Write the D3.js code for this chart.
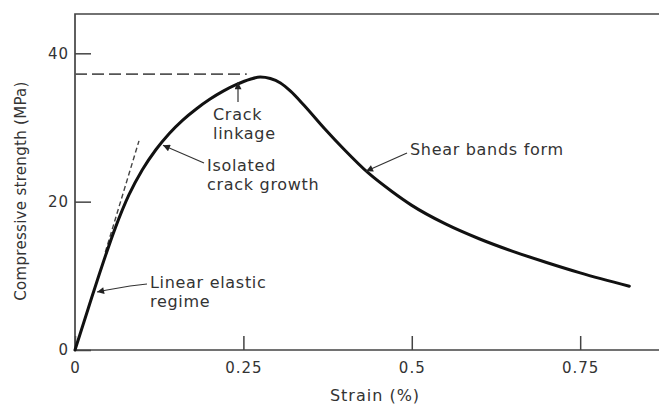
<!DOCTYPE html>
<html>
<head>
<meta charset="utf-8">
<script src="https://cdn.jsdelivr.net/npm/d3@7"></script>
<style>
  html, body { margin: 0; padding: 0; background: #fff; }
  svg { display: block; }
  text { font-family: "DejaVu Sans", sans-serif; fill: #333; }
</style>
</head>
<body>
<div id="chart"></div>
<script>
// ---- data ----
const strain = [0, 0.02, 0.04, 0.06, 0.08, 0.10, 0.12, 0.14, 0.16, 0.18, 0.20, 0.22, 0.24, 0.26, 0.275, 0.29, 0.305, 0.32, 0.34, 0.37, 0.40, 0.435, 0.47, 0.50, 0.55, 0.60, 0.65, 0.70, 0.75, 0.823];
const stress = [0, 5.7, 11.3, 16.5, 20.9, 24.3, 27.0, 29.2, 31.0, 32.5, 33.8, 34.9, 35.8, 36.5, 36.8, 36.6, 36.0, 34.9, 33.0, 29.9, 27.0, 23.9, 21.4, 19.5, 17.0, 15.0, 13.3, 11.8, 10.4, 8.6];

const xTicks = [0, 0.25, 0.5, 0.75];
const xTickLabels = ["0", "0.25", "0.5", "0.75"];
const yTicks = [0, 20, 40];
const yTickLabels = ["0", "20", "40"];

const peakStress = 37.2;
const peakStrainEnd = 0.255;
const tangentStrain = [0.045, 0.095];
const tangentStress = [13.2, 28.2];

const annLines = [["Linear elastic", "regime"], ["Isolated", "crack growth"], ["Crack", "linkage"], ["Shear bands form"]];
const annTextX = [0.1113, 0.196, 0.2049, 0.4973];
const annTextY = [[8.36, 5.80], [24.13, 21.57], [31.01, 28.45], [26.29]];
const annLeaderX = [[0.1069, 0.0817, 0.0475, 0.0327], [0.1915, 0.1306], [0.242, 0.242], [0.4929, 0.432]];
const annLeaderY = [[8.90, 8.63, 8.09, 7.82], [25.21, 27.6], [33.44, 36.1], [26.56, 24.1]];

const xLabel = "Strain (%)";
const yLabel = "Compressive strength (MPa)";

// ---- layout ----
const W = 659, H = 405;
const svg = d3.select("#chart").append("svg").attr("width", W).attr("height", H);

const x = d3.scaleLinear().domain([0, 0.87]).range([75, 661]);
const y = d3.scaleLinear().domain([0, 45.3]).range([350, 14]);

svg.append("defs").append("marker")
  .attr("id", "arr").attr("markerUnits", "userSpaceOnUse")
  .attr("viewBox", "0 0 10 10").attr("refX", 10).attr("refY", 5)
  .attr("markerWidth", 9).attr("markerHeight", 7).attr("orient", "auto")
  .append("path").attr("d", "M0,0 L10,5 L0,10 Z").attr("fill", "#222");

// frame (top, left, bottom)
const [x0, x1] = x.range();
const [yb, yt] = y.range();
svg.append("path")
  .attr("d", `M${x1},${yt} H${x0} V${yb} H${x1}`)
  .attr("fill", "none").attr("stroke", "#444").attr("stroke-width", 1.7);

// axes
const yAxis = d3.axisLeft(y).tickValues(yTicks)
  .tickFormat((d, i) => yTickLabels[i]).tickSize(-16).tickPadding(6);
const gy = svg.append("g").attr("transform", `translate(${x0},0)`).call(yAxis);
gy.select(".domain").remove();
gy.selectAll(".tick line").attr("stroke", "#444").attr("stroke-width", 1.5);
gy.selectAll(".tick text").attr("font-size", 15).attr("letter-spacing", 1)
  .attr("font-family", "DejaVu Sans").attr("fill", "#333");

const xAxis = d3.axisBottom(x).tickValues(xTicks)
  .tickFormat((d, i) => xTickLabels[i]).tickSize(-14).tickPadding(12);
const gx = svg.append("g").attr("transform", `translate(0,${yb})`).call(xAxis);
gx.select(".domain").remove();
gx.selectAll(".tick line").attr("stroke", "#444").attr("stroke-width", 1.5);
gx.selectAll(".tick text").attr("font-size", 15).attr("letter-spacing", 1)
  .attr("font-family", "DejaVu Sans").attr("fill", "#333");

// axis titles
svg.append("text").attr("x", 375).attr("y", 401)
  .attr("text-anchor", "middle").attr("font-size", 16).attr("letter-spacing", 1)
  .text(xLabel);
svg.append("text").attr("transform", "translate(26,191) rotate(-90)")
  .attr("text-anchor", "middle").attr("font-size", 15).attr("letter-spacing", 0.3)
  .text(yLabel);

// dashed peak line
svg.append("line")
  .attr("x1", x(0)).attr("x2", x(peakStrainEnd))
  .attr("y1", y(peakStress)).attr("y2", y(peakStress))
  .attr("stroke", "#555").attr("stroke-width", 1.6).attr("stroke-dasharray", "12,5");

// dashed tangent
svg.append("line")
  .attr("x1", x(tangentStrain[0])).attr("x2", x(tangentStrain[1]))
  .attr("y1", y(tangentStress[0])).attr("y2", y(tangentStress[1]))
  .attr("stroke", "#444").attr("stroke-width", 1.4).attr("stroke-dasharray", "5,3");

// main curve
const pts = strain.map((s, i) => [s, stress[i]]);
svg.append("path")
  .datum(pts)
  .attr("fill", "none").attr("stroke", "#111").attr("stroke-width", 3)
  .attr("stroke-linejoin", "round").attr("stroke-linecap", "round")
  .attr("d", d3.line().x(d => x(d[0])).y(d => y(d[1])).curve(d3.curveMonotoneX));

// annotations
annLines.forEach((lines, i) => {
  const lp = annLeaderX[i].map((v, j) => [x(v), y(annLeaderY[i][j])]);
  svg.append("path")
    .attr("d", d3.line()(lp))
    .attr("fill", "none").attr("stroke", "#333").attr("stroke-width", 1.2)
    .attr("marker-end", "url(#arr)");
  lines.forEach((t, j) => {
    svg.append("text")
      .attr("x", x(annTextX[i])).attr("y", y(annTextY[i][j]))
      .attr("font-size", 16).attr("letter-spacing", 0.7)
      .text(t);
  });
});
</script>
</body>
</html>
